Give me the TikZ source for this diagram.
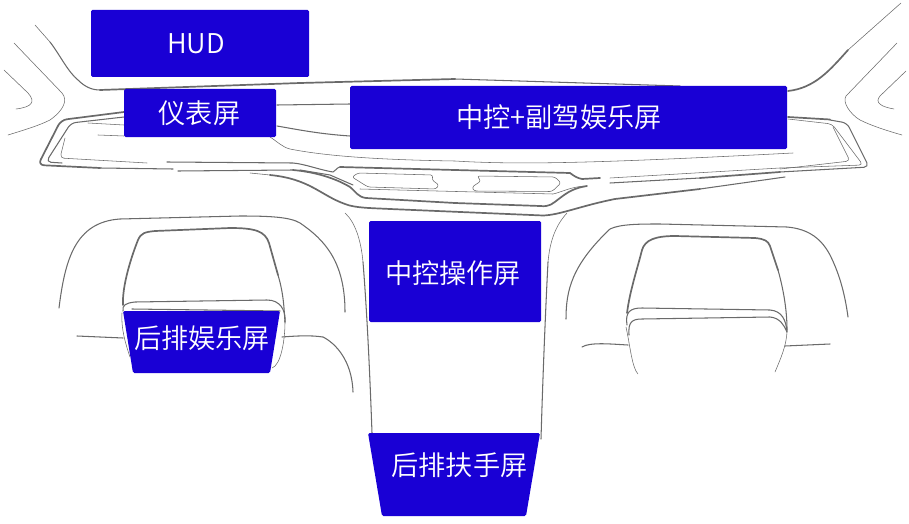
\documentclass[tikz,border=0pt]{standalone}
\usepackage{fontspec}
\newfontfamily\cjk{Noto Sans CJK SC DemiLight}
\definecolor{scr}{HTML}{1900D5}
\definecolor{ln}{HTML}{6A6A6A}
\tikzset{
  hair/.style={draw=ln,line width=0.55pt,line cap=round,line join=round},
  mid/.style={draw=ln,line width=1.05pt,line cap=round,line join=round},
  heavy/.style={draw=ln,line width=1.7pt,line cap=round,line join=round},
  panel/.style={fill=scr,rounded corners=1.5pt,inner sep=0pt},
  lab/.style={text=white,inner sep=0pt,font=\cjk\fontsize{27.2}{27.2}\selectfont}
}
\begin{document}
\begin{tikzpicture}[x=1pt,y=-1pt]
\useasboundingbox (0,0) rectangle (909,524);
% windshield
\draw[hair] (35,25) -- (50,42);
\draw[mid] (50,42) .. controls (60,55) and (68,72) .. (78,80) .. controls (85,87) and (92,90) .. (100,90);
\draw[heavy] (100,90) -- (300,83) -- (455,79);
\draw[mid] (455,79) -- (680,86);
\draw[heavy] (788,91) .. controls (815,88) and (830,70) .. (848,50);
\draw[hair] (848,50) -- (901,3);
% side pillars
\draw[hair] (14,43) -- (62,93) .. controls (68,100) and (64,110) .. (50,120) .. controls (38,126) and (24,130) .. (8,135);
\draw[hair] (4,70) -- (28,93) .. controls (36,102) and (32,107) .. (16,109);
\draw[hair] (897,43) -- (846,96) .. controls (842,102) and (850,114) .. (860,120) .. controls (872,126) and (888,131) .. (902,135);
\draw[hair] (906,71) -- (880,96) .. controls (874,103) and (882,107) .. (894,109);
% dash outline, left
\draw[heavy,rounded corners=6pt] (124,112) -- (61,120) -- (38,165) -- (100,168);
\draw[mid] (100,168) -- (173,169);
\draw[mid,rounded corners=5pt] (124,117) -- (71,123) -- (46,162) -- (62,163);
\draw[hair,rounded corners=4pt] (65,138) -- (60,158) -- (147,163);
\draw[hair] (88,123) -- (124,125);
\draw[hair] (98,135) -- (124,136);
% dash middle band
\draw[mid] (178,171) -- (293,170);
\draw[mid] (167,162) -- (293,163) .. controls (305,164) and (320,170) .. (333,172) .. controls (336,170) and (338,167) .. (340,167);
\draw[heavy] (340,167) -- (455,170) -- (570,173) .. controls (574,176) and (577,178) .. (582,179) -- (600,178);
\draw[hair] (610,178) -- (780,168);
% heavy sweep
\draw[heavy] (293,170) .. controls (315,172) and (335,178) .. (350,187) .. controls (356,192) and (358,197) .. (366,198) -- (455,203) -- (540,206) .. controls (550,207) and (552,204) .. (560,198) .. controls (568,192) and (574,188) .. (587,186);
\draw[mid] (300,170) -- (330,175) -- (353,185);
\draw[mid] (610,183) -- (700,178);
\draw[heavy] (700,178) -- (780,172);
\draw[mid,rounded corners=5pt] (780,172) -- (869,167) -- (847,123) -- (830,120);
\draw[heavy] (830,119.5) -- (788,117);
\draw[hair,rounded corners=4pt] (780,168) -- (863,165) -- (832,124) -- (788,119);
\draw[hair,rounded corners=4pt] (833,127) -- (850,161) -- (780,169);
% between screens
\draw[mid] (277,105) -- (350,104);
\draw[mid] (277,126) .. controls (300,130) and (320,134) .. (350,136);
\draw[hair] (270,137) .. controls (278,142) and (282,147) .. (290,149) .. controls (330,157) and (390,160) .. (455,161) .. controls (520,165) and (600,163) .. (793,153);
% lower sweep
\draw[hair] (250,173) -- (270,175);
\draw[heavy] (270,175) .. controls (310,179) and (320,195) .. (345,204) .. controls (355,208) and (370,208) .. (390,209) -- (543,215.5) .. controls (560,215) and (580,206) .. (615,199) -- (700,189);
\draw[mid] (700,189) -- (785,177);
% vents
\draw[hair,rounded corners=2.5pt] (358,173) -- (433,175) -- (432,180) -- (439,185) -- (436,189) -- (368,187) -- (352,177) -- cycle;
\draw[hair,rounded corners=2.5pt] (477,176) -- (555,177) -- (561,183) -- (552,191.5) -- (474,191) -- (472,187) -- (481,181) -- cycle;
\draw[hair] (360,189) -- (553,194) .. controls (562,192) and (570,187) .. (585,186);
% centre console
\draw[hair] (345,213) .. controls (355,222) and (361,240) .. (363,262);
\draw[mid] (363,262) .. controls (366,300) and (369,350) .. (372,433);
\draw[hair] (567,213) .. controls (556,225) and (550,240) .. (548,262);
\draw[mid] (548,262) .. controls (546,300) and (543,370) .. (541,439);
% left seat
\draw[mid] (59,308) .. controls (65,260) and (75,222) .. (120,219) -- (240,216) .. controls (270,216) and (290,217) .. (300,223) .. controls (325,240) and (345,262) .. (345,312);
\draw[heavy] (123,305) .. controls (122,285) and (132,255) .. (138,240) .. controls (141,233) and (145,232) .. (155,231) -- (230,228) .. controls (255,228) and (265,231) .. (269,243) -- (278,275);
\draw[mid] (278,275) .. controls (284,295) and (284,310) .. (285,322);
\draw[mid] (123,311) .. controls (122,305) and (126,303) .. (135,302) -- (267,300) .. controls (280,300) and (286,310) .. (285,322);
\draw[hair] (285,322) .. controls (285,340) and (281,365) .. (272,368);
\draw[hair] (122,313) .. controls (121,330) and (126,345) .. (130,357);
\draw[mid] (132,309) -- (280,311);
\draw[mid] (77,336) -- (123,338);
\draw[mid] (282,337) .. controls (295,336) and (310,335) .. (323,337);
\draw[mid] (323,337) .. controls (335,343) and (352,360) .. (353,392);
% right seat
\draw[mid] (566,319) .. controls (566,290) and (572,265) .. (610,229) .. controls (620,224) and (640,224) .. (660,224) -- (787,227) .. controls (810,229) and (822,240) .. (830,255) .. controls (840,275) and (845,295) .. (848,317);
\draw[heavy] (627,313) .. controls (630,290) and (637,270) .. (642,250) .. controls (645,240) and (655,236) .. (675,236) -- (755,238) .. controls (765,239) and (768,241) .. (770,246) -- (778,270);
\draw[mid] (778,270) .. controls (785,295) and (787,315) .. (787,330);
\draw[hair] (787,330) .. controls (787,345) and (780,360) .. (775,372);
\draw[mid] (627,325) .. controls (625,312) and (630,308) .. (642,308) -- (770,310) .. controls (782,311) and (786,320) .. (787,332);
\draw[mid] (629,335) .. controls (628,322) and (632,319) .. (642,319) -- (770,317) .. controls (780,318) and (784,325) .. (787,332);
\draw[hair] (626,327) .. controls (630,345) and (632,368) .. (638,374);
\draw[mid] (582,347) .. controls (590,342) and (610,344) .. (628,345);
\draw[mid] (785,346) -- (830,344);
% screens
\node[panel,minimum width=218pt,minimum height=67pt] (hud) at (200,43.5) {};
\node[lab] (hudt) at (196,44) {HUD};
\node[panel,minimum width=152pt,minimum height=48pt] (ins) at (200,113) {};
\node[lab] (inst) at (199.5,113) {仪表屏};
\node[panel,minimum width=437pt,minimum height=63pt] (ctr) at (568.5,117.5) {};
\node[lab] (ctrt) at (559,117) {中控+副驾娱乐屏};
\node[panel,minimum width=172pt,minimum height=101pt] (ops) at (455,271.5) {};
\node[lab] (opst) at (453,273.5) {中控操作屏};
\fill[scr,rounded corners=1.5pt] (123,311) -- (280,311) -- (270,373) -- (133,373) -- cycle;
\node[lab] (rear) at (202,338) {后排娱乐屏};
\fill[scr,rounded corners=1.5pt] (368,433) -- (540,433) -- (526,516) -- (382,516) -- cycle;
\node[lab] (arm) at (459.5,465) {后排扶手屏};
\end{tikzpicture}
\end{document}
